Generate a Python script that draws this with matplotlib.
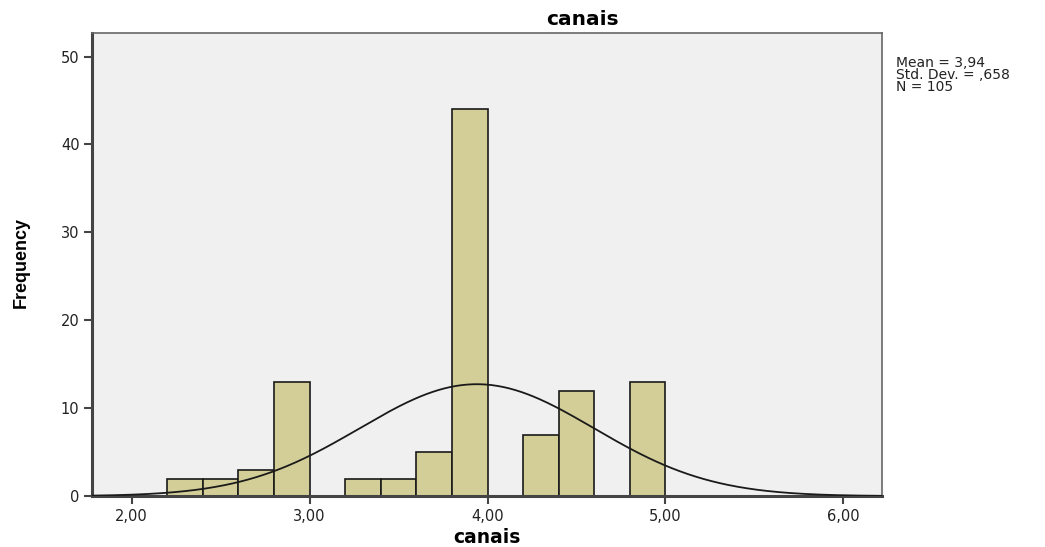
import numpy as np
import matplotlib
matplotlib.use("Agg")
import matplotlib.pyplot as plt

# Histogram of "canais" (bin width 0.2)
bin_lefts = [2.2, 2.4, 2.6, 2.8, 3.2, 3.4, 3.6, 3.8, 4.2, 4.4, 4.8]
counts = [2, 2, 3, 13, 2, 2, 5, 44, 7, 12, 13]
bin_width = 0.2
mean, std_dev, n = 3.94, 0.658, 105
x_ticks = [2, 3, 4, 5, 6]
x_tick_labels = ["2,00", "3,00", "4,00", "5,00", "6,00"]
y_ticks = [0, 10, 20, 30, 40, 50]

plt.rcParams['font.family'] = ['DejaVu Sans']

fig = plt.figure(figsize=(10.45, 5.47), dpi=100)
ax = fig.add_axes([0.088, 0.093, 0.756, 0.847])
ax.set_facecolor('#f0f0f0')

ax.bar(bin_lefts, counts, width=bin_width, align='edge',
       color='#d3ce97', edgecolor='#1a1a1a', linewidth=1.2, zorder=2)

# Normal curve scaled to the histogram
xs = np.linspace(1.777, 6.217, 400)
pdf = np.exp(-0.5 * ((xs - mean) / std_dev) ** 2) / (std_dev * np.sqrt(2 * np.pi))
ax.plot(xs, n * bin_width * pdf, color='#1a1a1a', linewidth=1.3, zorder=3)

ax.set_xlim(1.777, 6.217)
ax.set_ylim(0, 52.7)
ax.set_xticks(x_ticks)
ax.set_xticklabels(x_tick_labels)
ax.set_yticks(y_ticks)
ax.tick_params(axis='both', direction='out', length=6, width=1.5,
               color='#444444', labelsize=10.5, labelcolor='#222222', pad=3)

for side in ['left', 'bottom']:
    ax.spines[side].set_linewidth(2.2)
    ax.spines[side].set_color('#444444')
for side in ['top', 'right']:
    ax.spines[side].set_linewidth(1.2)
    ax.spines[side].set_color('#666666')

fig.text(582 / 1045, 1 - 25 / 547, 'canais', fontsize=14.5, fontweight='bold',
         ha='center', va='baseline')
fig.text(487 / 1045, 1 - 543 / 547, 'canais', fontsize=13.5, fontweight='bold',
         ha='center', va='baseline')
fig.text(21 / 1045, 1 - 263 / 547, 'Frequency', fontsize=13, fontweight='bold',
         family='Liberation Sans', fontstretch='condensed',
         rotation=90, ha='center', va='center')

fig.text(896 / 1045, 1 - 56 / 547,
         'Mean = 3,94\nStd. Dev. = ,658\nN = 105',
         fontsize=10, va='top', ha='left', linespacing=0.8, color='#222222')

fig.savefig('out.png', dpi=100, facecolor='white')
